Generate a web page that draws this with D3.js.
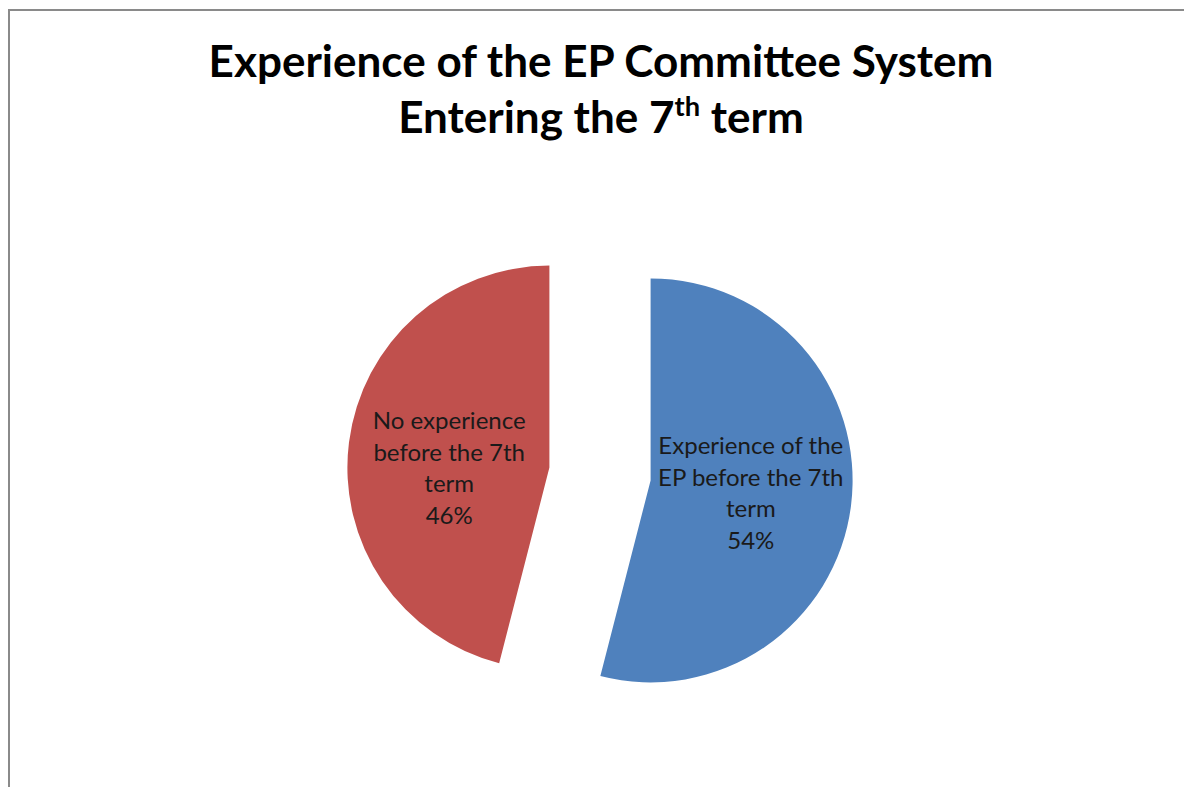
<!DOCTYPE html>
<html>
<head>
<meta charset="utf-8">
<script src="https://cdn.jsdelivr.net/npm/d3@7"></script>
<style>
  html, body { margin: 0; padding: 0; background: #fff; }
  svg { display: block; }
</style>
</head>
<body>
<svg id="chart" width="1184" height="787"></svg>
<script>
// ---- data ----
const categories = ["Experience of the EP before the 7th term", "No experience before the 7th term"];
const values = [54, 46];
const labelLines = [
  ["Experience of the", "EP before the 7th", "term"],
  ["No experience", "before the 7th", "term"]
];
const titleLine1 = "Experience of the EP Committee System";
const titleLine2Parts = ["Entering the 7", "th", " term"];

// ---- layout / style ----
const W = 1184, H = 787;
const colors = ["#4F81BD", "#C0504D"];
const cx = 600, cy = 474, R = 202, explode = 51;
const labelDy = [0, 13];
const lineGap = 31.5;
const fontFam = "Lato, 'Open Sans', 'DejaVu Sans', sans-serif";

const svg = d3.select("#chart");
svg.append("rect").attr("width", W).attr("height", H).attr("fill", "#fff");

// frame (partly cropped)
svg.append("path")
  .attr("d", `M9,${H} L9,10 L${W},10`)
  .attr("fill", "none").attr("stroke", "#8a8a8a").attr("stroke-width", 2);

// helper to fit font size to a target width
function fitSize(textSel, base, target) {
  const w = textSel.node().getComputedTextLength();
  return base * target / w;
}

// ---- title ----
const t1 = svg.append("text")
  .attr("x", cx + 1).attr("y", 77)
  .attr("text-anchor", "middle")
  .attr("font-family", fontFam).attr("font-weight", "bold")
  .attr("font-size", 36).attr("fill", "#000")
  .text(titleLine1);
const tSize = fitSize(t1, 36, 785);
t1.attr("font-size", tSize);

const t2 = svg.append("text")
  .attr("x", cx + 1).attr("y", 133)
  .attr("text-anchor", "middle")
  .attr("font-family", fontFam).attr("font-weight", "bold")
  .attr("font-size", tSize).attr("fill", "#000");
t2.append("tspan").text(titleLine2Parts[0]);
t2.append("tspan").attr("font-size", tSize * 0.62).attr("dy", -tSize * 0.38).text(titleLine2Parts[1]);
t2.append("tspan").attr("dy", tSize * 0.38).text(titleLine2Parts[2]);

// ---- pie ----
const pie = d3.pie().sort(null).value(d => d);
const arcs = pie(values);
const arc = d3.arc().innerRadius(0).outerRadius(R);

const g = svg.append("g").attr("transform", `translate(${cx},${cy})`);

const slices = g.selectAll("g.slice").data(arcs).enter().append("g")
  .attr("class", "slice")
  .attr("transform", d => {
    const m = (d.startAngle + d.endAngle) / 2;
    return `translate(${explode * Math.sin(m)},${-explode * Math.cos(m)})`;
  });

slices.append("path")
  .attr("d", arc)
  .attr("fill", (d, i) => colors[i]);

// ---- labels ----
const probe = svg.append("text").attr("font-family", fontFam).attr("font-size", 20).text(labelLines[0][0]);
const lSize = fitSize(probe, 20, 185);
probe.remove();

slices.each(function(d, i) {
  const m = (d.startAngle + d.endAngle) / 2;
  const lx = (R / 2) * Math.sin(m);
  const ly = -(R / 2) * Math.cos(m) + labelDy[i];
  const lines = labelLines[i].concat([Math.round(values[i]) + "%"]);
  const n = lines.length;
  const txt = d3.select(this).append("text")
    .attr("text-anchor", "middle")
    .attr("font-family", fontFam)
    .attr("font-size", lSize)
    .attr("fill", "#1a1a1a");
  lines.forEach((ln, k) => {
    txt.append("tspan")
      .attr("x", lx)
      .attr("y", ly + (k - (n - 1) / 2) * lineGap)
      .attr("dy", "0.35em")
      .text(ln);
  });
});
</script>
</body>
</html>
